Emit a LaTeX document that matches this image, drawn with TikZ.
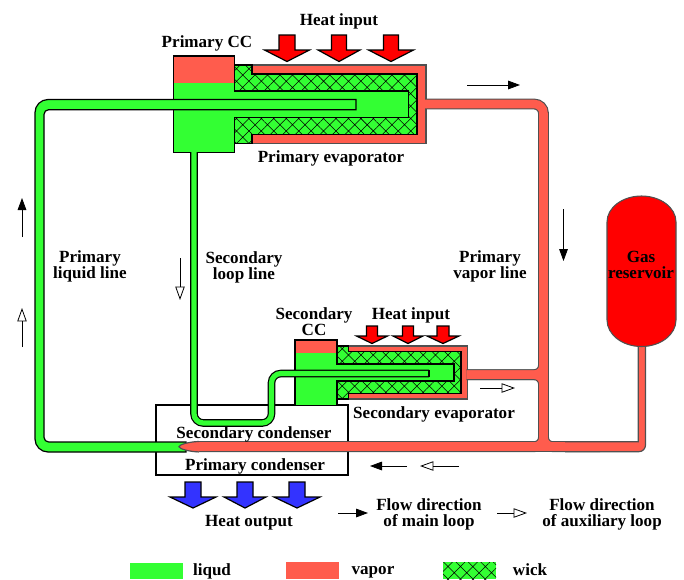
\documentclass[tikz,border=0pt]{standalone}
\usepackage{fontspec}
\setmainfont{Liberation Serif}
\usetikzlibrary{arrows.meta,patterns.meta}
\definecolor{liquidcol}{HTML}{33FF33}
\definecolor{vaporcol}{HTML}{FF5C4D}
\definecolor{vaporedge}{HTML}{505050}
\definecolor{heatred}{HTML}{FF0000}
\definecolor{coolblue}{HTML}{3333FF}
\tikzset{
  lbl/.style={font=\bfseries\fontsize{12.8pt}{11.9pt}\selectfont,align=center,inner sep=0pt},
  shell/.style={draw=vaporedge,fill=vaporcol,line width=.8pt},
  wick/.style={draw=black,line width=.8pt,preaction={fill=liquidcol},
    pattern={Hatch[angle=45,distance=6.6pt,line width=.4pt]},pattern color=black},
  outline/.style={draw=black,line width=.9pt},
  blockarrow/.style={draw=black,line width=.9pt,line join=miter},
  mainflow/.style={-{Triangle[length=9pt,width=6.5pt]},line width=.6pt},
  auxflow/.style={-{Triangle[open,fill=white,length=10pt,width=7pt]},line width=.6pt}
}
\begin{document}
\begin{tikzpicture}[x=.75pt,y=-.75pt]
\useasboundingbox (0,0) rectangle (684,579);
% condensers
\draw[outline,fill=white] (156,405) rectangle (348,475);
% primary evaporator and CC
\path[shell] (234,65) rectangle (426,143.3);
\path[wick] (234,65) -- (252,65) -- (252,74) -- (417,74) -- (417,134.5) -- (252,134.5) -- (252,143.3) -- (234,143.3) -- cycle;
\fill[liquidcol] (173.5,56) rectangle (234.3,152.5) (234,91) rectangle (408.3,117.3);
\fill[vaporcol] (173.5,56) rectangle (234.3,82.7);
\draw[outline] (173.5,56) -- (234.3,56) -- (234.3,91) -- (408.3,91) -- (408.3,117.3) -- (234.3,117.3) -- (234.3,152.5) -- (173.5,152.5) -- cycle;
% secondary evaporator and CC
\path[shell] (337,346) rectangle (467.7,399);
\path[wick] (337,346) -- (348.3,346) -- (348.3,351.7) -- (461,351.7) -- (461,393.3) -- (348.3,393.3) -- (348.3,399) -- (337,399) -- cycle;
\fill[liquidcol] (295,340) rectangle (337,405.3) (337,364) rectangle (454,381);
\fill[vaporcol] (295,340) rectangle (337,353);
\draw[outline] (295,340) -- (337,340) -- (337,364) -- (454,364) -- (454,381) -- (337,381) -- (337,405.3) -- (295,405.3) -- cycle;
% primary liquid line
\draw[outline,fill=liquidcol] (356,99.5) [rounded corners=9.75pt] -- (35,99.5) -- (35,452) [sharp corners] -- (186,452) -- (186,442) [rounded corners=3.5pt] -- (44,442) -- (44,109.7) [sharp corners] -- (356,109.7) -- cycle;
% secondary loop line
\draw[black,line width=.9pt,double=liquidcol,double distance=3.9pt,rounded corners=7pt] (194,152) -- (194,423) -- (271.5,423) -- (271.5,373.5) -- (429,373.5);
\draw[outline] (429,370.2) -- (429,376.8);
% vapor lines, edge colour first
\foreach \pipecol/\pipegrow in {vaporedge/1.7pt,vaporcol/0pt} {
  \draw[\pipecol,line width={6.4pt+\pipegrow},rounded corners=7pt] (425,104) -- (543.5,104) -- (543.5,300);
  \draw[\pipecol,line width={6.4pt+\pipegrow},rounded corners=7pt] (466.5,374.7) -- (543.5,374.7) -- (543.5,300);
  \draw[\pipecol,line width={6.4pt+\pipegrow},rounded corners=7pt] (466.5,374.7) -- (543.5,374.7) -- (543.5,420);
  \draw[\pipecol,line width={6.4pt+\pipegrow},rounded corners=7pt] (543.5,300) -- (543.5,446.7) -- (196,446.7);
  \draw[\pipecol,line width={6.4pt+\pipegrow},rounded corners=7pt] (543.5,300) -- (543.5,446.7) -- (600,446.7);
  \draw[\pipecol,line width={6.6pt+\pipegrow}] (196,446.7) -- (600,446.7);
}
\path[fill=vaporcol,draw=vaporedge,line width=.9pt] (565,441.7) -- (638.3,441.7) [rounded corners=1.5pt] -- (638.3,340) [sharp corners] -- (645.5,340) [rounded corners=5pt] -- (645.5,451.7) [sharp corners] -- (565,451.7);
\path[fill=vaporcol,draw=vaporedge,line width=.9pt] (199,441.5) .. controls (190,441.6) and (179,444.5) .. (179,446.7) .. controls (179,448.9) and (190,451.8) .. (199,451.9);
% gas reservoir
\path[draw=vaporedge,fill=heatred,line width=.8pt] (607,222) arc[start angle=180,end angle=360,x radius=34.5,y radius=26] -- (676,320) arc[start angle=0,end angle=180,x radius=34.5,y radius=26.5] -- cycle;
% heat arrows
\foreach \tipx/\shaft/\head in {287/8/22.5,339/7.5/21,391/7.5/22.5}
  \draw[blockarrow,fill=heatred] (\tipx-\shaft,35) -- (\tipx+\shaft,35) -- (\tipx+\shaft,50) -- (\tipx+\head,50) -- (\tipx,61.5) -- (\tipx-\head,50) -- (\tipx-\shaft,50) -- cycle;
\foreach \tipx/\shaft/\head in {372/5.5/15.5,408/5.5/15,443/6/16}
  \draw[blockarrow,fill=heatred] (\tipx-\shaft,326) -- (\tipx+\shaft,326) -- (\tipx+\shaft,336) -- (\tipx+\head,336) -- (\tipx,343.5) -- (\tipx-\head,336) -- (\tipx-\shaft,336) -- cycle;
\foreach \tipx/\shaft/\head in {193/8/23,245/8/21,297/8/23}
  \draw[blockarrow,fill=coolblue] (\tipx-\shaft,482) -- (\tipx+\shaft,482) -- (\tipx+\shaft,497) -- (\tipx+\head,497) -- (\tipx,508) -- (\tipx-\head,497) -- (\tipx-\shaft,497) -- cycle;
% flow arrows
\draw[mainflow] (467,85) -- (520,85);
\draw[mainflow] (563.5,209) -- (563.5,261);
\draw[mainflow] (22,237) -- (22,198);
\draw[auxflow] (22,347) -- (22,308);
\draw[auxflow] (180,258) -- (180,300);
\draw[auxflow] (480,388) -- (515,388);
\draw[mainflow] (407,466) -- (370,466);
\draw[auxflow] (459,466) -- (420,466);
\draw[mainflow] (338,513) -- (368,513);
\draw[auxflow] (497,513) -- (527,513);
% labels
\node[lbl] (heattop) at (339,21) {Heat input};
\node[lbl] (ccprim) at (207,43) {Primary CC};
\node[lbl] (evapprim) at (331,158) {Primary evaporator};
\node[lbl] (liqline) at (90,266) {Primary\\liquid line};
\node[lbl] (secline) at (244,267) {Secondary\\loop line};
\node[lbl] (vapline) at (490,266) {Primary\\vapor line};
\node[lbl] (gasres) at (641,265) {Gas\\reservoir};
\node[lbl] (ccsec) at (314,322) {Secondary\\CC};
\node[lbl] (heatsec) at (411,315) {Heat input};
\node[lbl] (evapsec) at (434,414) {Secondary evaporator};
\node[lbl] (condsec) at (254,434) {Secondary condenser};
\node[lbl] (condprim) at (255,466) {Primary condenser};
\node[lbl] (heatout) at (249,523) {Heat output};
\node[lbl] (flowmain) at (429,514) {Flow direction\\of main loop};
\node[lbl] (flowaux) at (602,514) {Flow direction\\of auxiliary loop};
% legend
\fill[liquidcol] (130,563) rectangle (183,579);
\node[lbl] (legliq) at (212,571) {liqud};
\fill[vaporcol] (286,562) rectangle (339,579);
\node[lbl] (legvap) at (373,572) {vapor};
\path[wick,draw=none] (443,562) rectangle (496,579);
\node[lbl] (legwick) at (530,570) {wick};
\end{tikzpicture}
\end{document}
